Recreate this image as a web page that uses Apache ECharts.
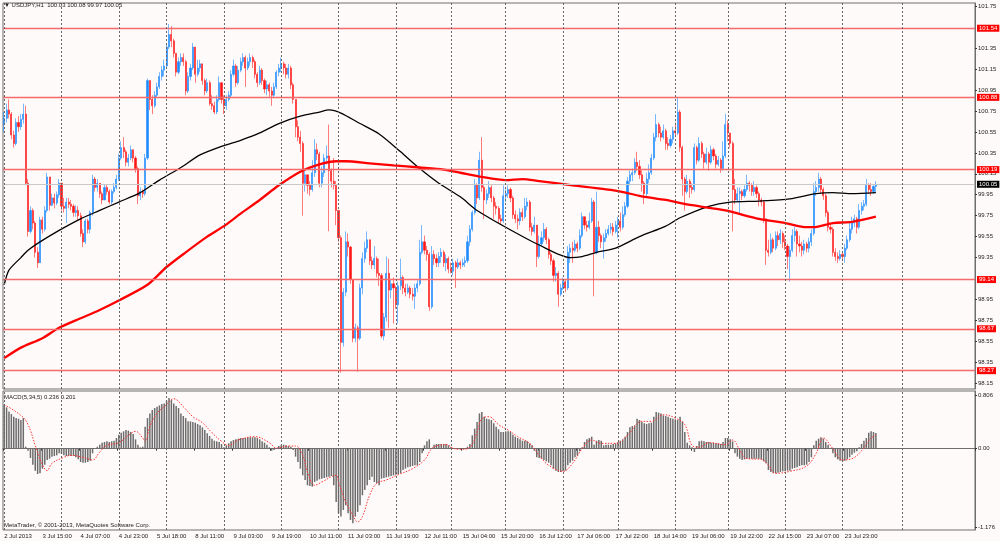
<!DOCTYPE html>
<html>
<head>
<meta charset="utf-8">
<title>USDJPY,H1</title>
<script src="https://cdn.jsdelivr.net/npm/echarts@6/dist/echarts.min.js"></script>
<style>
  html, body { margin: 0; padding: 0; background: #fffafa; }
  #chart { width: 1000px; height: 541px; }
</style>
</head>
<body>
<div id="chart"></div>
<script>
// USDJPY H1, 2 Jul - 24 Jul 2013
var firstOpen = 100.62;
var closes = [
  100.68,100.76,100.72,100.52,100.44,100.64,100.60,100.67,100.72,100.06,
  99.60,99.80,99.68,99.40,99.30,99.71,99.62,99.80,100.12,99.85,
  99.92,99.87,99.95,100.06,99.84,99.82,99.88,99.86,99.84,99.78,
  99.80,99.75,99.58,99.50,99.70,99.62,99.78,100.10,100.02,100.06,
  99.96,99.90,100.02,99.98,99.88,99.98,100.02,100.10,100.30,100.40,
  100.36,100.26,100.30,100.38,100.30,100.20,99.94,99.98,99.96,100.30,
  101.04,100.86,100.80,100.90,100.98,101.08,101.14,101.18,101.36,101.48,
  101.42,101.30,101.12,101.22,101.26,101.22,100.94,101.08,101.16,101.36,
  101.10,101.16,101.20,101.04,100.94,101.02,100.82,100.80,100.74,100.86,
  101.02,100.86,100.80,100.86,100.90,101.10,101.18,101.02,101.14,101.22,
  101.26,101.16,101.22,101.26,101.22,101.10,101.02,101.14,101.04,100.96,
  101.00,100.94,100.90,100.98,101.12,101.16,101.20,101.16,101.10,101.16,
  101.00,100.86,100.60,100.50,100.44,100.06,100.14,100.04,100.00,100.16,
  100.38,100.34,100.06,100.16,100.30,100.32,100.18,100.08,100.04,99.80,
  99.54,98.54,99.02,99.50,99.45,99.14,98.58,98.68,98.58,99.06,
  99.34,99.44,99.52,99.32,99.28,99.34,99.20,99.18,98.60,98.78,
  99.20,99.04,99.10,99.06,98.90,99.08,99.16,99.06,99.02,99.06,
  99.00,98.98,99.06,99.10,99.40,99.50,99.42,99.38,98.88,99.38,
  99.34,99.30,99.36,99.40,99.30,99.34,99.24,99.22,99.30,99.26,
  99.30,99.28,99.30,99.32,99.50,99.62,99.78,100.04,99.92,100.28,
  100.02,99.90,99.96,100.02,99.92,99.84,99.82,99.72,99.70,99.94,
  99.96,100.00,99.92,99.76,99.72,99.70,99.78,99.74,99.84,99.88,
  99.64,99.60,99.66,99.36,99.48,99.54,99.62,99.52,99.38,99.32,
  99.18,99.20,99.00,99.06,99.12,99.06,99.40,99.44,99.42,99.48,
  99.44,99.56,99.74,99.66,99.64,99.70,99.88,99.40,99.64,99.56,
  99.50,99.54,99.58,99.62,99.64,99.60,99.66,99.70,99.64,99.76,
  99.84,100.08,100.14,100.16,100.26,100.22,100.14,100.06,99.96,100.10,
  100.16,100.30,100.50,100.62,100.54,100.50,100.56,100.44,100.42,100.48,
  100.56,100.54,100.74,100.40,100.10,99.98,100.08,100.02,100.00,100.40,
  100.28,100.44,100.34,100.26,100.34,100.26,100.38,100.32,100.24,100.28,
  100.20,100.32,100.62,100.54,100.44,100.00,99.90,99.96,99.98,99.94,
  100.00,100.06,100.04,99.98,100.02,99.96,99.90,99.88,99.72,99.42,
  99.40,99.52,99.44,99.56,99.52,99.58,99.50,99.46,99.36,99.42,
  99.56,99.60,99.48,99.46,99.42,99.48,99.44,99.50,99.58,99.98,
  100.02,100.10,100.00,99.94,99.78,99.64,99.62,99.40,99.36,99.34,
  99.38,99.36,99.44,99.52,99.62,99.68,99.72,99.64,99.80,99.84,
  99.86,100.04,100.00,99.98,100.03,100.05
];
var highs = [
  100.74,100.82,100.86,100.74,100.56,100.68,100.70,100.72,100.82,100.80,
  100.10,99.84,99.82,99.70,99.45,99.74,99.74,99.84,100.16,100.12,
  99.96,99.96,99.98,100.10,100.06,99.92,99.92,99.92,99.90,99.86,
  99.85,99.84,99.78,99.62,99.72,99.72,99.80,100.14,100.12,100.10,
  100.06,99.98,100.05,100.05,100.00,100.00,100.06,100.14,100.34,100.46,
  100.50,100.38,100.34,100.42,100.38,100.32,100.22,100.02,100.00,100.34,
  101.06,101.04,100.90,100.94,101.02,101.12,101.18,101.24,101.40,101.58,
  101.56,101.44,101.30,101.26,101.30,101.30,101.24,101.12,101.20,101.40,
  101.36,101.24,101.24,101.20,101.06,101.06,101.04,100.90,100.84,100.90,
  101.08,101.02,100.90,100.90,100.94,101.14,101.24,101.20,101.18,101.26,
  101.30,101.28,101.26,101.30,101.28,101.24,101.12,101.18,101.16,101.06,
  101.04,101.02,100.98,101.02,101.14,101.20,101.26,101.22,101.20,101.20,
  101.18,101.02,100.86,100.66,100.56,100.46,100.18,100.14,100.08,100.28,
  100.48,100.44,100.36,100.22,100.34,100.42,100.62,100.20,100.30,100.08,
  99.80,99.56,99.06,99.60,99.58,99.46,99.14,98.72,98.70,99.10,
  99.40,99.50,99.60,99.52,99.36,99.46,99.36,99.34,99.20,98.82,
  99.36,99.34,99.14,99.16,99.08,99.12,99.34,99.18,99.10,99.10,
  99.08,99.06,99.10,99.14,99.52,99.66,99.56,99.46,99.40,99.46,
  99.42,99.38,99.40,99.44,99.42,99.38,99.36,99.30,99.34,99.32,
  99.34,99.32,99.34,99.36,99.56,99.66,99.80,100.10,100.06,100.36,
  100.50,100.04,100.00,100.08,100.04,99.94,99.88,99.84,99.76,100.04,
  100.00,100.04,100.02,99.94,99.80,99.76,99.82,99.82,99.92,99.92,
  99.90,99.68,99.74,99.66,99.56,99.60,99.68,99.64,99.54,99.40,
  99.34,99.26,99.22,99.10,99.16,99.14,99.46,99.48,99.50,99.52,
  99.50,99.62,99.78,99.74,99.70,99.78,99.92,99.90,99.98,99.70,
  99.58,99.58,99.62,99.66,99.68,99.68,99.70,99.74,99.78,99.84,
  99.88,100.12,100.18,100.20,100.30,100.36,100.28,100.18,100.08,100.16,
  100.24,100.34,100.54,100.72,100.64,100.60,100.62,100.58,100.50,100.52,
  100.60,100.64,100.88,100.76,100.42,100.12,100.14,100.10,100.06,100.44,
  100.42,100.50,100.46,100.36,100.40,100.36,100.42,100.40,100.34,100.32,
  100.30,100.46,100.72,100.66,100.54,100.46,100.10,100.02,100.02,100.00,
  100.04,100.14,100.08,100.06,100.08,100.04,99.98,99.92,99.90,99.72,
  99.52,99.58,99.54,99.60,99.60,99.62,99.60,99.56,99.48,99.46,
  99.62,99.64,99.62,99.56,99.50,99.52,99.50,99.54,99.62,100.06,
  100.08,100.16,100.12,100.02,99.96,99.80,99.68,99.64,99.44,99.40,
  99.42,99.40,99.48,99.56,99.70,99.74,99.76,99.74,99.86,99.88,
  99.90,100.10,100.06,100.06,100.04,100.08
];
var lows = [
  100.55,100.64,100.68,100.48,100.40,100.42,100.55,100.57,100.63,100.04,
  99.55,99.58,99.62,99.35,99.25,99.30,99.58,99.60,99.78,99.80,
  99.84,99.82,99.85,99.92,99.80,99.78,99.68,99.82,99.80,99.74,
  99.74,99.70,99.55,99.45,99.48,99.58,99.58,99.75,99.98,99.98,
  99.92,99.86,99.90,99.95,99.86,99.86,99.96,100.00,100.08,100.28,
  100.30,100.22,100.22,100.28,100.26,100.16,99.86,99.90,99.92,99.94,
  100.28,100.76,100.72,100.78,100.88,100.96,101.04,101.08,101.16,101.34,
  101.36,101.26,101.08,101.10,101.18,101.18,100.90,100.92,101.04,101.14,
  101.02,101.08,101.12,101.00,100.90,100.92,100.80,100.76,100.72,100.72,
  100.84,100.82,100.72,100.76,100.84,100.88,101.08,100.98,101.00,101.12,
  101.18,100.98,101.14,101.18,101.16,101.06,100.98,101.00,101.00,100.92,
  100.90,100.88,100.80,100.88,100.96,101.08,101.12,101.10,101.06,101.06,
  100.96,100.82,100.50,100.46,100.36,99.75,99.98,99.96,99.94,99.98,
  100.12,100.28,100.02,100.02,100.12,100.24,99.60,100.02,100.00,99.66,
  99.50,98.25,98.50,98.98,99.36,99.10,98.54,98.54,98.26,98.56,
  99.00,99.30,99.40,99.28,99.24,99.24,99.16,99.08,98.58,98.56,
  98.74,98.68,98.96,98.72,98.86,98.72,99.04,99.00,98.98,99.00,
  98.96,98.94,98.86,99.02,99.08,99.38,99.38,99.32,98.84,98.86,
  99.28,99.26,99.26,99.30,99.26,99.22,99.20,99.20,99.18,99.06,
  99.24,99.24,99.26,99.26,99.30,99.46,99.60,99.76,99.86,99.90,
  99.98,99.72,99.86,99.92,99.88,99.72,99.76,99.68,99.66,99.68,
  99.88,99.92,99.88,99.72,99.68,99.62,99.66,99.70,99.72,99.80,
  99.60,99.56,99.58,99.26,99.34,99.46,99.50,99.48,99.34,99.28,
  99.12,99.12,98.88,98.98,99.04,99.02,99.04,99.30,99.30,99.40,
  99.40,99.42,99.54,99.62,99.60,99.62,99.68,98.98,99.38,99.50,
  99.44,99.34,99.50,99.56,99.58,99.56,99.58,99.54,99.60,99.62,
  99.74,99.82,100.04,100.08,100.14,100.18,100.10,99.98,99.86,99.94,
  100.06,100.14,100.28,100.46,100.50,100.46,100.48,100.38,100.38,100.40,
  100.44,100.50,100.52,100.36,99.94,99.80,99.96,99.92,99.96,99.98,
  100.24,100.26,100.30,100.20,100.24,100.18,100.24,100.28,100.20,100.22,
  100.16,100.18,100.30,100.46,100.40,99.60,99.86,99.88,99.76,99.90,
  99.92,99.98,99.98,99.94,99.94,99.92,99.84,99.84,99.68,99.28,
  99.36,99.38,99.40,99.42,99.46,99.48,99.44,99.42,99.24,99.12,
  99.40,99.50,99.36,99.40,99.36,99.38,99.40,99.40,99.46,99.56,
  99.94,99.98,99.96,99.90,99.74,99.60,99.58,99.36,99.32,99.30,
  99.32,99.32,99.30,99.42,99.50,99.58,99.64,99.58,99.62,99.76,
  99.80,99.84,99.96,99.94,99.96,99.97
];

// moving averages, [bar, price]
var maBlack = [[0,99.09],[2,99.23],[7,99.35],[10,99.42],[15,99.50],[23,99.61],[32,99.72],[40,99.80],
  [48,99.88],[57,99.97],[65,100.09],[74,100.21],[82,100.33],[92,100.42],[99,100.47],[107,100.54],
  [115,100.63],[124,100.70],[132,100.74],[136,100.76],[141,100.73],[149,100.63],[157,100.53],
  [166,100.36],[174,100.20],[182,100.06],[191,99.93],[198,99.80],[210,99.64],[224,99.47],
  [237,99.35],[242,99.36],[248,99.40],[256,99.44],[266,99.55],[277,99.65],[283,99.73],[295,99.84],
  [304,99.88],[316,99.89],[329,99.91],[340,99.96],[347,99.97],[355,99.96],[365,99.97]];
var maRed = [[0,98.39],[7,98.49],[16,98.58],[23,98.68],[32,98.77],[40,98.85],[48,98.94],[60,99.09],
  [68,99.26],[76,99.40],[85,99.55],[92,99.65],[99,99.77],[107,99.90],[115,100.04],[124,100.17],
  [132,100.24],[139,100.27],[143,100.27],[153,100.25],[163,100.23],[174,100.21],[184,100.19],
  [191,100.16],[200,100.12],[210,100.09],[217,100.10],[224,100.08],[238,100.04],[256,99.99],
  [266,99.94],[277,99.90],[288,99.85],[302,99.80],[316,99.72],[327,99.68],[336,99.64],[339,99.64],
  [347,99.68],[355,99.69],[365,99.74]];

// MACD(5,34,5) main line, one value per bar
var macd = [
  0.66,0.62,0.56,0.52,0.48,0.46,0.45,0.43,0.46,0.03,
  -0.03,-0.14,-0.24,-0.33,-0.38,-0.37,-0.30,-0.24,-0.17,-0.15,
  -0.12,-0.11,-0.10,-0.07,-0.08,-0.10,-0.11,-0.11,-0.11,-0.11,
  -0.13,-0.16,-0.20,-0.21,-0.21,-0.20,-0.18,-0.07,0.00,0.03,
  0.06,0.09,0.10,0.11,0.10,0.11,0.12,0.16,0.21,0.24,
  0.26,0.28,0.27,0.25,0.22,0.14,0.06,0.02,0.03,0.33,
  0.46,0.53,0.58,0.61,0.63,0.65,0.67,0.68,0.72,0.76,
  0.73,0.68,0.64,0.61,0.53,0.49,0.46,0.41,0.41,0.40,
  0.39,0.37,0.35,0.32,0.28,0.23,0.19,0.15,0.12,0.11,
  0.10,0.07,0.02,0.05,0.08,0.11,0.13,0.14,0.15,0.16,
  0.16,0.16,0.17,0.17,0.17,0.17,0.16,0.14,0.11,0.09,
  0.06,0.02,-0.03,-0.02,0.01,0.04,0.05,0.06,0.05,0.04,
  0.03,-0.02,-0.12,-0.20,-0.30,-0.40,-0.47,-0.55,-0.56,-0.57,
  -0.50,-0.48,-0.46,-0.45,-0.44,-0.43,-0.42,-0.41,-0.55,-0.80,
  -0.97,-1.02,-0.92,-0.85,-0.97,-1.07,-1.12,-1.02,-0.95,-0.85,
  -0.70,-0.62,-0.55,-0.47,-0.42,-0.50,-0.52,-0.55,-0.45,-0.44,
  -0.43,-0.42,-0.41,-0.40,-0.39,-0.38,-0.37,-0.32,-0.30,-0.28,
  -0.27,-0.26,-0.25,-0.25,-0.20,-0.07,0.05,0.11,0.14,0.00,
  0.06,0.07,0.07,0.07,0.07,0.07,0.05,0.02,0.01,0.01,
  0.01,0.01,0.01,0.01,0.03,0.07,0.20,0.30,0.40,0.53,
  0.55,0.48,0.45,0.44,0.43,0.38,0.33,0.29,0.25,0.25,
  0.26,0.26,0.25,0.21,0.18,0.16,0.14,0.12,0.12,0.11,
  0.08,0.05,-0.03,-0.13,-0.14,-0.15,-0.17,-0.19,-0.21,-0.25,
  -0.30,-0.33,-0.35,-0.35,-0.34,-0.33,-0.25,-0.21,-0.18,-0.13,
  -0.10,-0.04,0.02,0.10,0.14,0.16,0.18,0.06,0.12,0.13,
  0.12,0.05,0.06,0.06,0.06,0.07,0.08,0.10,0.12,0.14,
  0.18,0.25,0.32,0.34,0.35,0.45,0.43,0.40,0.38,0.37,
  0.38,0.39,0.48,0.55,0.54,0.53,0.50,0.49,0.48,0.46,
  0.45,0.44,0.43,0.48,0.41,0.25,0.09,0.05,0.02,-0.05,
  0.04,0.11,0.12,0.11,0.10,0.10,0.09,0.09,0.08,0.08,
  0.07,0.10,0.16,0.16,0.14,0.11,-0.07,-0.12,-0.15,-0.17,
  -0.16,-0.15,-0.15,-0.15,-0.15,-0.15,-0.15,-0.16,-0.19,-0.22,
  -0.32,-0.35,-0.37,-0.37,-0.36,-0.35,-0.34,-0.34,-0.33,-0.33,
  -0.30,-0.29,-0.28,-0.26,-0.25,-0.25,-0.24,-0.20,-0.13,0.05,
  0.12,0.15,0.17,0.15,0.10,0.06,0.00,-0.07,-0.13,-0.16,
  -0.18,-0.19,-0.18,-0.16,-0.13,-0.09,-0.06,-0.04,0.02,0.07,
  0.12,0.16,0.24,0.26,0.25,0.236
];
// signal line, [bar, value]
var macdSignal = [[0,0.66],[7,0.50],[10,0.36],[13,0.05],[16,-0.24],[18,-0.33],[20,-0.22],[25,-0.13],
  [28,-0.10],[33,-0.13],[37,-0.17],[40,-0.05],[43,0.05],[48,0.09],[52,0.20],[55,0.26],[58,0.16],
  [59,0.11],[61,0.33],[64,0.53],[68,0.66],[71,0.75],[75,0.63],[79,0.48],[83,0.39],[87,0.24],
  [91,0.11],[94,0.05],[98,0.13],[105,0.18],[111,0.09],[114,0.01],[119,0.04],[122,0.04],
  [125,-0.10],[127,-0.35],[130,-0.55],[133,-0.50],[139,-0.40],[140,-0.50],[143,-0.80],[146,-1.00],
  [148,-1.10],[150,-1.02],[153,-0.70],[156,-0.52],[160,-0.47],[165,-0.39],[171,-0.30],[176,-0.17],
  [179,0.00],[182,0.05],[186,0.06],[187,0.02],[191,-0.01],[195,0.02],[198,0.25],[200,0.45],
  [203,0.48],[207,0.36],[211,0.28],[215,0.18],[220,0.08],[224,-0.10],[228,-0.25],[234,-0.34],
  [238,-0.22],[242,0.00],[246,0.13],[250,0.08],[256,0.08],[261,0.20],[267,0.41],[271,0.41],
  [276,0.51],[281,0.46],[285,0.36],[288,0.05],[291,0.02],[295,0.09],[302,0.06],[305,0.13],
  [308,-0.02],[311,-0.15],[317,-0.16],[320,-0.25],[323,-0.37],[329,-0.34],[336,-0.26],[340,-0.07],
  [343,0.16],[347,0.00],[351,-0.17],[355,-0.15],[359,-0.03],[363,0.16],[365,0.201]];

var levels = [101.54, 100.88, 100.19, 99.14, 98.67, 98.27];
var bid = 100.05;
var dayStarts = [0, 24, 48, 68, 92, 116, 140, 164, 187, 210, 234, 257, 281, 303, 327, 351, 376];
var timeLabels = ['2 Jul 2013', '3 Jul 15:00', '4 Jul 07:00', '4 Jul 23:00', '5 Jul 18:00', '8 Jul 11:00',
  '9 Jul 03:00', '9 Jul 19:00', '10 Jul 11:00', '11 Jul 03:00', '11 Jul 19:00', '12 Jul 11:00',
  '15 Jul 04:00', '15 Jul 20:00', '16 Jul 12:00', '17 Jul 06:00', '17 Jul 22:00', '18 Jul 14:00',
  '19 Jul 06:00', '19 Jul 22:00', '22 Jul 15:00', '23 Jul 07:00', '23 Jul 23:00'];
var priceTicks = [98.15, 98.35, 98.55, 98.75, 98.95, 99.35, 99.55, 99.75, 99.95, 100.15,
  100.35, 100.55, 100.75, 100.95, 101.15, 101.35, 101.75];
var macdTicks = [0.806, 0, -1.176];

var slots = 407;     // bars that fit in the window, incl. the empty shift on the right
var labelStep = 16;  // one time label every 16 bars
var font = 'Liberation Sans';

var cats = [];
for (var i = 0; i < slots; i++) cats.push(i);

var candles = closes.map(function (c, i) {
  var o = i ? closes[i - 1] : firstOpen;
  return [o, c, Math.min(lows[i], o, c), Math.max(highs[i], o, c)];
});

var last = candles.length - 1;
var title = '\u25BC USDJPY,H1  ' + candles[last][0].toFixed(2) + ' ' + candles[last][3].toFixed(2) + ' ' +
  candles[last][2].toFixed(2) + ' ' + candles[last][1].toFixed(2);
var macdTitle = 'MACD(5,34,5) ' + macd[last].toFixed(3) + ' ' + macdSignal[macdSignal.length - 1][1].toFixed(3);

function showTimeLabel(idx) {
  return idx % labelStep === 0 && idx / labelStep < timeLabels.length;
}

function daySeparators() {
  return {
    silent: true, symbol: 'none', animation: false,
    label: { show: false },
    lineStyle: { color: '#666', width: 1, type: [2, 2] },
    data: dayStarts.map(function (d) { return { xAxis: d }; })
  };
}

var levelLines = levels.map(function (v) {
  return {
    yAxis: v,
    lineStyle: { color: '#f56a6a', width: 1.3, type: 'solid' },
    label: { backgroundColor: '#ff0000', color: '#fff' }
  };
});
levelLines.push({
  yAxis: bid,
  lineStyle: { color: '#c8c8c8', width: 1, type: 'solid' },
  label: { backgroundColor: '#000', color: '#fff' }
});

var chart = echarts.init(document.getElementById('chart'));
chart.setOption({
  animation: false,
  backgroundColor: '#fffafa',
  grid: [
    { left: 3, right: 25, top: 3, height: 386, show: true, borderColor: '#6e6e6e', borderWidth: 1 },
    { left: 3, right: 25, top: 391, height: 139, show: true, borderColor: '#6e6e6e', borderWidth: 1 }
  ],
  xAxis: [
    { type: 'category', gridIndex: 0, data: cats, boundaryGap: true,
      axisLine: { show: false }, axisTick: { show: false }, axisLabel: { show: false }, splitLine: { show: false } },
    { type: 'category', gridIndex: 1, data: cats, boundaryGap: true,
      axisLine: { show: true, lineStyle: { color: '#6e6e6e' } },
      axisTick: { show: true, length: 2, lineStyle: { color: '#333' }, interval: showTimeLabel },
      axisLabel: { show: true, fontSize: 6, fontFamily: font, color: '#222', margin: 3, align: 'left',
        interval: showTimeLabel,
        formatter: function (val, idx) { return timeLabels[idx / labelStep] || ''; } },
      splitLine: { show: false } }
  ],
  yAxis: [
    { type: 'value', gridIndex: 0, position: 'right', min: 98.095, max: 101.781, scale: true,
      splitLine: { show: false },
      axisLine: { show: true, lineStyle: { color: '#6e6e6e' } },
      axisTick: { show: true, length: 2, customValues: priceTicks, lineStyle: { color: '#333' } },
      axisLabel: { customValues: priceTicks, fontSize: 6, fontFamily: font, color: '#222', margin: 3,
        formatter: function (v) { return v.toFixed(2); } } },
    { type: 'value', gridIndex: 1, position: 'right', min: -1.221, max: 0.866,
      splitLine: { show: false },
      axisLine: { show: true, lineStyle: { color: '#6e6e6e' } },
      axisTick: { show: true, length: 2, customValues: macdTicks, lineStyle: { color: '#333' } },
      axisLabel: { customValues: macdTicks, fontSize: 6, fontFamily: font, color: '#222', margin: 3,
        formatter: function (v) { return v === 0 ? '0.00' : String(v); } } }
  ],
  series: [
    {
      type: 'candlestick', xAxisIndex: 0, yAxisIndex: 0, data: candles, barWidth: 1.6, z: 3,
      itemStyle: {
        color: '#1e8cff', color0: '#ff1414',
        borderColor: 'rgba(30,140,255,0.75)', borderColor0: 'rgba(255,20,20,0.7)', borderWidth: 0.8
      },
      markLine: {
        silent: true, symbol: 'none', animation: false, precision: 2,
        label: { show: true, position: 'end', distance: 2, fontSize: 6, fontFamily: font, padding: [1, 2, 0, 2],
          formatter: function (p) { return p.value.toFixed(2); } },
        data: levelLines
      }
    },
    {
      type: 'line', xAxisIndex: 0, yAxisIndex: 0, data: maBlack, smooth: 0.25,
      symbol: 'none', z: 4, lineStyle: { color: '#000', width: 1.3 }
    },
    {
      type: 'line', xAxisIndex: 0, yAxisIndex: 0, data: maRed, smooth: 0.25,
      symbol: 'none', z: 4, lineStyle: { color: '#ff0000', width: 2.3 },
      markLine: daySeparators()
    },
    {
      type: 'bar', xAxisIndex: 1, yAxisIndex: 1, data: macd, barWidth: 1.5,
      itemStyle: { color: '#6c6c6c' },
      markLine: daySeparators()
    },
    {
      type: 'line', xAxisIndex: 1, yAxisIndex: 1, data: macdSignal, smooth: 0.4, symbol: 'none', z: 4,
      lineStyle: { color: '#ff3030', width: 1, type: [1.5, 1.5] }
    }
  ],
  graphic: [
    { type: 'text', left: 4, top: 2, silent: true,
      style: { text: title, font: '6px ' + font, fill: '#222' } },
    { type: 'text', left: 4, top: 394, silent: true,
      style: { text: macdTitle, font: '6px ' + font, fill: '#222' } },
    { type: 'text', left: 4, top: 522, silent: true,
      style: { text: 'MetaTrader, \u00A9 2001-2013, MetaQuotes Software Corp.', font: '6px ' + font, fill: '#222' } }
  ]
});
</script>
</body>
</html>
